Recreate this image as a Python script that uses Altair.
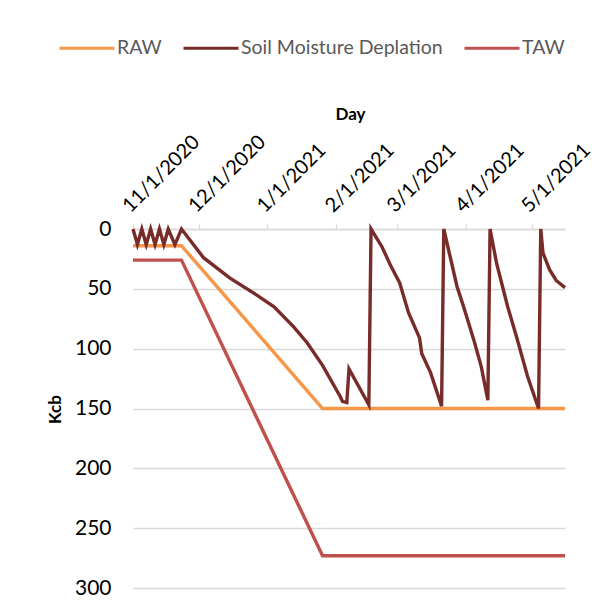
import altair as alt
import pandas as pd

# ---- data ----
series_names = ["RAW", "Soil Moisture Deplation", "TAW"]
series_colors = ["#F79646", "#772C2A", "#C0504D"]

raw_dates = ["2020-11-01", "2020-11-23", "2021-01-26", "2021-05-16"]
raw_values = [14, 14, 150, 150]

taw_dates = ["2020-11-01", "2020-11-23", "2021-01-26", "2021-05-16"]
taw_values = [26, 26, 273, 273]

smd_dates = [
    "2020-11-01", "2020-11-03", "2020-11-05", "2020-11-07", "2020-11-09",
    "2020-11-11", "2020-11-13", "2020-11-15", "2020-11-17", "2020-11-20",
    "2020-11-23", "2020-12-03", "2020-12-15", "2020-12-27", "2021-01-04",
    "2021-01-13", "2021-01-19", "2021-01-26", "2021-02-03", "2021-02-04",
    "2021-02-06", "2021-02-07", "2021-02-16", "2021-02-17", "2021-02-22",
    "2021-02-26", "2021-03-02", "2021-03-06", "2021-03-11", "2021-03-12",
    "2021-03-16", "2021-03-21", "2021-03-22", "2021-03-28", "2021-03-31",
    "2021-04-05", "2021-04-08", "2021-04-11", "2021-04-12", "2021-04-15",
    "2021-04-20", "2021-04-24", "2021-04-29", "2021-05-04", "2021-05-05",
    "2021-05-06", "2021-05-09", "2021-05-12", "2021-05-16",
]
smd_values = [
    0, 13, 0, 13, 0,
    13, 0, 13, 0, 13,
    0, 24, 41, 55, 65,
    82, 95, 114, 140, 144,
    145, 117, 147, 0, 15,
    31, 45, 70, 91, 104,
    120, 148, 0, 48, 65,
    95, 115, 143, 0, 29,
    65, 90, 123, 150, 0,
    20, 34, 43, 49,
]

tick_dates = ["2020-11-01", "2020-12-01", "2021-01-01", "2021-02-01",
              "2021-03-01", "2021-04-01", "2021-05-01"]
y_ticks = [0, 50, 100, 150, 200, 250, 300]

# ---- table ----
rows = []
for d, v in zip(raw_dates, raw_values):
    rows.append({"Day": d, "value": v, "series": series_names[0]})
for d, v in zip(smd_dates, smd_values):
    rows.append({"Day": d, "value": v, "series": series_names[1]})
for d, v in zip(taw_dates, taw_values):
    rows.append({"Day": d, "value": v, "series": series_names[2]})
df = pd.DataFrame(rows)


def dt(s):
    y, m, d = (int(p) for p in s.split("-"))
    return alt.DateTime(year=y, month=m, date=d, utc=True)


FONT = "Lato"
GRID = "#D9D9D9"

chart = (
    alt.Chart(df)
    .mark_line(strokeWidth=3.4)
    .encode(
        x=alt.X(
            "Day:T",
            scale=alt.Scale(type="utc", domain=[dt(raw_dates[0]), dt(raw_dates[-1])], nice=False),
            axis=alt.Axis(
                orient="top",
                title="Day",
                values=[dt(s) for s in tick_dates],
                labelExpr="utcFormat(datum.value, '%-m/%-d/%Y')",
                labelAngle=315,
                labelAlign="left",
                labelBaseline="alphabetic",
                labelPadding=11,
                labelOffset=-3,
                labelFont=FONT,
                labelFontSize=20,
                labelColor="#000000",
                labelOverlap=False,
                labelBound=False,
                labelFlush=False,
                grid=False,
                domainColor=GRID,
                domainWidth=1.3,
                tickColor=GRID,
                tickWidth=1.3,
                tickSize=5,
                titleFont=FONT,
                titleFontSize=17,
                titleFontWeight="bold",
                titleColor="#000000",
                titleX=217,
                titleY=-115,
                titleAlign="center",
                titleBaseline="middle",
            ),
        ),
        y=alt.Y(
            "value:Q",
            scale=alt.Scale(domain=[0, 300], reverse=True, nice=False),
            axis=alt.Axis(
                title="Kcb",
                values=y_ticks,
                grid=True,
                gridColor=GRID,
                gridWidth=1.3,
                domain=False,
                ticks=False,
                tickSize=0,
                labelPadding=22,
                labelFont=FONT,
                labelFontSize=21,
                labelColor="#000000",
                titleFont=FONT,
                titleFontSize=17,
                titleFontWeight="bold",
                titleColor="#000000",
                titleAngle=270,
                titleX=-78,
                titleY=180,
                titleAlign="center",
                titleBaseline="middle",
            ),
        ),
        color=alt.Color(
            "series:N",
            scale=alt.Scale(domain=series_names, range=series_colors),
            legend=alt.Legend(
                title=None,
                orient="none",
                direction="horizontal",
                legendX=-75,
                legendY=-210,
                symbolType="stroke",
                symbolSize=3025,
                symbolStrokeWidth=3,
                labelFont=FONT,
                labelFontSize=19.5,
                labelColor="#595959",
                labelOffset=1,
                labelLimit=0,
                columnPadding=15,
            ),
        ),
    )
    .properties(
        width=432,
        height=359,
        padding={"left": 125, "top": 221, "right": 31, "bottom": 16},
        autosize=alt.AutoSizeParams(type="none"),
    )
    .configure_view(stroke=None)
)

chart.save("out.html", embed_options={"renderer": "svg", "actions": False})
